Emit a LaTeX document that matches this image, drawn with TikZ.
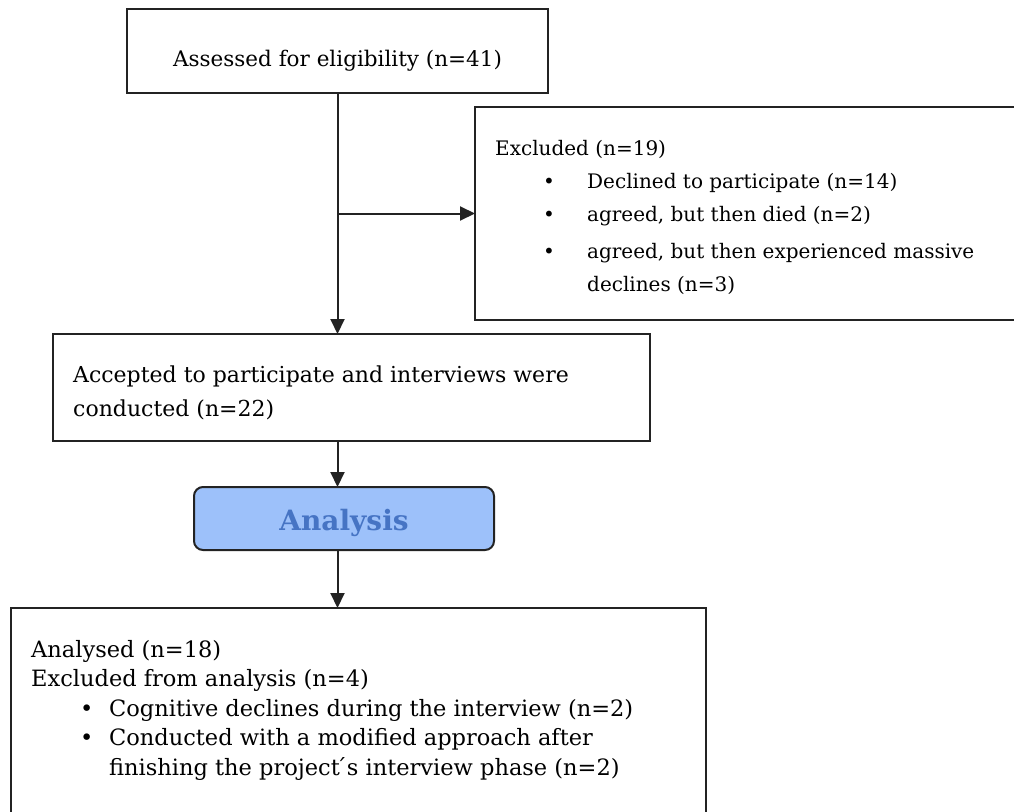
\documentclass[tikz,border=0pt]{standalone}
\usepackage{fontspec}
\setmainfont{DejaVu Serif}
\usetikzlibrary{arrows.meta}
\definecolor{anfill}{RGB}{157,193,250}
\definecolor{antext}{RGB}{70,116,196}
\definecolor{edgec}{RGB}{35,35,35}
\begin{document}
\begin{tikzpicture}[x=1pt,y=-1pt,
  box/.style={draw=edgec, line width=2pt, rectangle, inner sep=0pt, outer sep=0pt, anchor=north west},
  txt/.style={inner sep=0pt, anchor=base west, text=black},
  conn/.style={draw=edgec, line width=2pt, -{Triangle[length=15pt,width=14pt]}},
]
\useasboundingbox (0,0) rectangle (1014,811);
\clip (0,0) rectangle (1014,811);
\fill[white] (0,0) rectangle (1014,811);

\node[box, minimum width=421pt, minimum height=84pt] (b1) at (127,9) {};
\node[box, minimum width=600pt, minimum height=213pt] (b2) at (475,107) {};
\node[box, minimum width=597pt, minimum height=107pt] (b3) at (53,334) {};
\node[box, minimum width=300pt, minimum height=63pt, rounded corners=9pt, fill=anfill,
      text=antext, text height=24pt, text depth=0pt,
      font=\fontsize{28}{32}\selectfont\bfseries] (an) at (194,487) {Analysis};
\node[box, minimum width=695pt, minimum height=260pt] (b4) at (11,608) {};

\node[txt, anchor=base, font=\fontsize{21.5}{33}\selectfont] (t1) at (337.5,66) {Assessed for eligibility (n=41)};

\node[txt, font=\fontsize{20}{33}\selectfont] (t2) at (495,155) {\begin{tabular}[t]{@{}l@{}}Excluded (n=19)\\
\hspace*{48pt}\makebox[44pt][l]{\textbullet}Declined to participate (n=14)\\
\hspace*{48pt}\makebox[44pt][l]{\textbullet}agreed, but then died (n=2)\\[4pt]
\hspace*{48pt}\makebox[44pt][l]{\textbullet}agreed, but then experienced massive\\
\hspace*{92pt}declines (n=3)\end{tabular}};

\node[txt, font=\fontsize{22}{34}\selectfont] (t3) at (73,382) {\begin{tabular}[t]{@{}l@{}}Accepted to participate and interviews were\\
conducted (n=22)\end{tabular}};

\node[txt, font=\fontsize{22.5}{29.5}\selectfont] (t4) at (31,657) {\begin{tabular}[t]{@{}l@{}}Analysed (n=18)\\
Excluded from analysis (n=4)\\
\hspace*{49pt}\makebox[29pt][l]{\textbullet}Cognitive declines during the interview (n=2)\\
\hspace*{49pt}\makebox[29pt][l]{\textbullet}Conducted with a modified approach after\\
\hspace*{78pt}finishing the project\'{}s interview phase (n=2)\end{tabular}};

\draw[conn] (b1.south) -- (b1.south |- b3.north);
\draw[conn] (b1.south |- b2.west) -- (b2.west);
\draw[conn] (b1.south |- b3.south) -- (b1.south |- an.north);
\draw[conn] (b1.south |- an.south) -- (b1.south |- b4.north);
\end{tikzpicture}
\end{document}
